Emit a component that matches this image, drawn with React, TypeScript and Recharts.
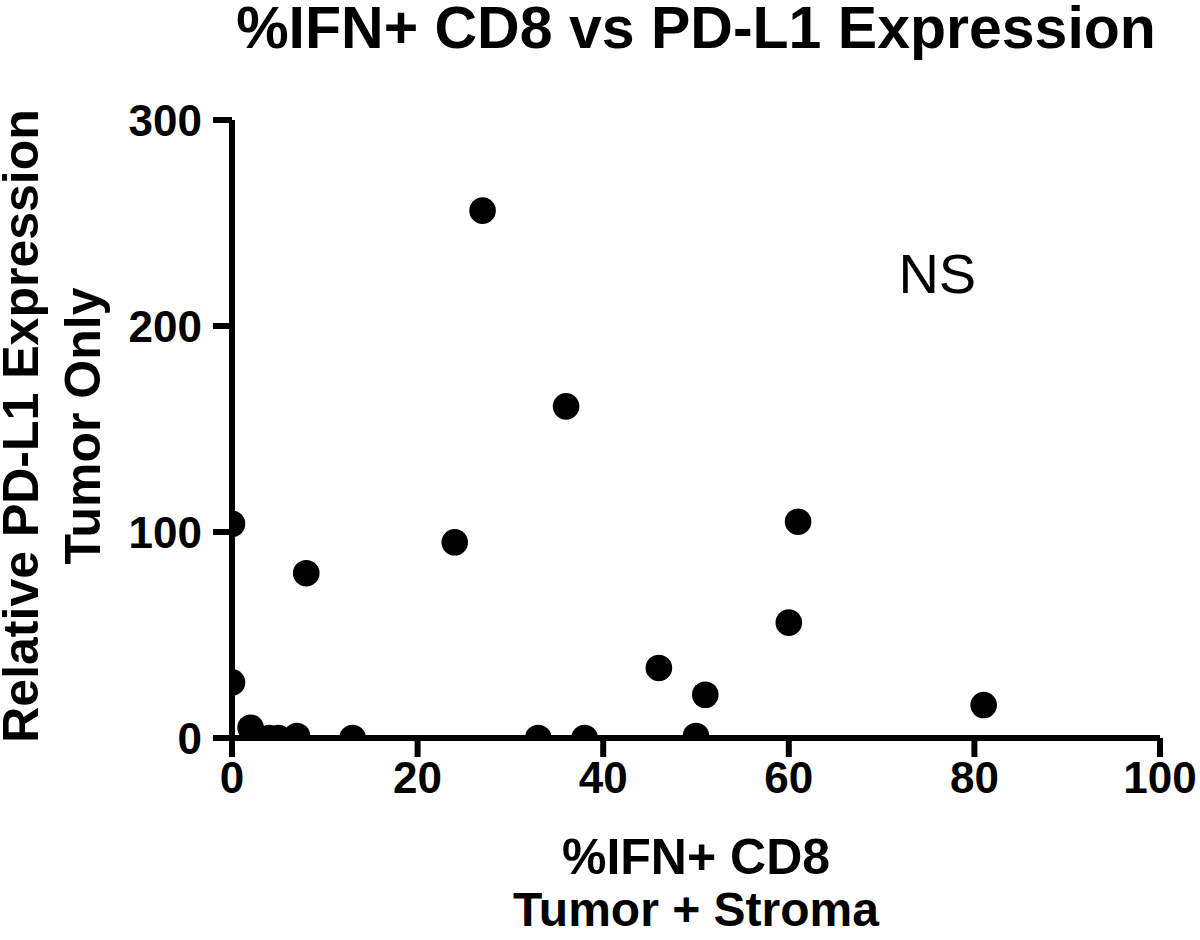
import { ScatterChart, Scatter, XAxis, YAxis, ReferenceDot, Customized } from "recharts";

// %IFN+ CD8 (tumor + stroma) vs relative PD-L1 expression (tumor only)
const ifnCd8 = [0, 0, 2, 4, 5, 7, 8, 13, 24, 27, 33, 36, 38, 46, 50, 51, 60, 61, 81];
const pdl1 = [104, 27, 5, 0, 0, 1, 80, 0, 95, 256, 0, 161, 0, 34, 1, 21, 56, 105, 16];

const xTicks = [0, 20, 40, 60, 80, 100];
const yTicks = [0, 100, 200, 300];

const title = "%IFN+ CD8 vs PD-L1 Expression";
const xLabelLines = ["%IFN+ CD8", "Tumor + Stroma"];
const yLabelLines = ["Relative PD-L1 Expression", "Tumor Only"];

const FONT = '"Liberation Sans", Arial, Helvetica, sans-serif';

const data = ifnCd8.map((x, i) => ({ x, y: pdl1[i] }));

function Dot(props: any) {
  const { cx, cy } = props;
  if (cx == null || cy == null) return null;
  return <circle cx={cx} cy={cy} r={13.3} fill="#000" />;
}

function XTitle({ viewBox }: any) {
  const cx = viewBox.x + viewBox.width / 2;
  return (
    <g fontFamily={FONT} fontWeight="bold" fill="#000">
      <text x={cx} y={874} textAnchor="middle" fontSize={50}>{xLabelLines[0]}</text>
      <text x={cx} y={926} textAnchor="middle" fontSize={48}>{xLabelLines[1]}</text>
    </g>
  );
}

function YTitle({ viewBox }: any) {
  const cy = viewBox.y + viewBox.height / 2 - 3;
  return (
    <g fontFamily={FONT} fontWeight="bold" fontSize={50} fill="#000">
      <text x={38} y={cy} textAnchor="middle" transform={`rotate(-90, 38, ${cy})`}>
        {yLabelLines[0]}
      </text>
      <text x={100} y={cy} textAnchor="middle" transform={`rotate(-90, 100, ${cy})`}>
        {yLabelLines[1]}
      </text>
    </g>
  );
}

function Title() {
  return (
    <text x={696} y={48} textAnchor="middle" fontFamily={FONT} fontWeight="bold" fontSize={59} fill="#000">
      {title}
    </text>
  );
}

export default function App() {
  const tickStyle = { fill: "#000", fontSize: 44, fontWeight: "bold", fontFamily: FONT };
  const lineStyle = { stroke: "#000", strokeWidth: 6 };

  return (
    <div style={{ position: "absolute", left: 0, top: 0, width: 1200, height: 940, background: "#fff" }}>
      <ScatterChart width={1200} height={940} margin={{ top: 120, right: 40, bottom: 0, left: 0 }}>
        <XAxis
          type="number"
          dataKey="x"
          domain={[0, 100]}
          ticks={xTicks}
          interval={0}
          height={202}
          tickSize={19}
          tickMargin={5}
          axisLine={lineStyle}
          tickLine={lineStyle}
          tick={tickStyle}
          allowDataOverflow
          label={{ content: XTitle }}
        />
        <YAxis
          type="number"
          dataKey="y"
          domain={[0, 300]}
          ticks={yTicks}
          interval={0}
          width={232}
          tickSize={19}
          tickMargin={11}
          axisLine={lineStyle}
          tickLine={lineStyle}
          tick={tickStyle}
          allowDataOverflow
          label={{ content: YTitle }}
        />
        <Scatter data={data} shape={<Dot />} isAnimationActive={false} />
        <ReferenceDot
          x={76}
          y={216}
          r={0}
          fill="none"
          stroke="none"
          label={{ value: "NS", position: "top", fill: "#000", fontSize: 56, fontFamily: FONT, offset: 0 }}
        />
        <Customized component={Title} />
      </ScatterChart>
    </div>
  );
}
